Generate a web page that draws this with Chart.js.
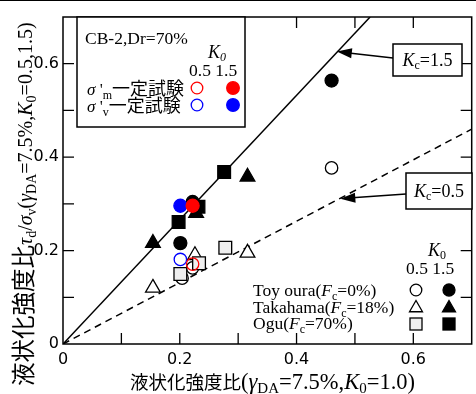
<!DOCTYPE html>
<html>
<head>
<meta charset="utf-8">
<script src="https://cdn.jsdelivr.net/npm/chart.js@4.4.0/dist/chart.umd.min.js"></script>
<style>
  html, body { margin: 0; padding: 0; background: #fff; overflow: hidden; }
  #wrap { width: 482px; height: 394px; }
</style>
</head>
<body>
<div id="wrap"><canvas id="c" width="482" height="394"></canvas></div>
<script>
// values: [ratio at K0=1.0, ratio at K0=0.5/1.5]
const toyouraK15 = [[0.460, 0.564], [0.201, 0.216], [0.222, 0.304]];
const toyouraK05 = [[0.460, 0.377], [0.204, 0.141], [0.222, 0.163]];
const takahamaK15 = [[0.154, 0.216], [0.316, 0.358], [0.228, 0.280]];
const takahamaK05 = [[0.154, 0.120], [0.316, 0.195], [0.226, 0.190]];
const oguK15 = [[0.198, 0.261], [0.276, 0.368], [0.232, 0.294]];
const oguK05 = [[0.201, 0.150], [0.278, 0.206], [0.233, 0.173]];
const sigmaMK15 = [[0.222, 0.296]];
const sigmaMK05 = [[0.222, 0.171]];
const sigmaVK15 = [[0.201, 0.296]];
const sigmaVK05 = [[0.201, 0.181]];
const kc15Line = [[0, 0], [0.526, 0.7]];
const kc05Line = [[0, 0], [0.7, 0.46]];
const kc15Tip = [0.469, 0.626];
const kc05Tip = [0.475, 0.311];
const axisMax = 0.7;
const tickStep = 0.1;
const labelledTicks = [0, 0.2, 0.4, 0.6];

const serif = "'Liberation Serif', 'DejaVu Serif', serif";
const cjk = "'Noto Sans CJK JP', sans-serif";

function pts(arr) {
  return arr.map((p) => ({ x: p[0], y: p[1] }));
}

function scatter(label, data, style, radius, fill, edge, order) {
  return {
    type: "scatter", label, data: pts(data), pointStyle: style, pointRadius: radius,
    pointHoverRadius: radius, backgroundColor: fill, borderColor: edge, borderWidth: 1.3, order,
  };
}

function rich(ctx, x, y, segs) {
  let cx = x;
  segs.forEach((s) => {
    ctx.font = s.f;
    ctx.fillText(s.t, cx, y + (s.dy || 0));
    cx += ctx.measureText(s.t).width + (s.sp || 0);
  });
  return cx;
}

function richWidth(ctx, segs) {
  let w = 0;
  segs.forEach((s) => { ctx.font = s.f; w += ctx.measureText(s.t).width + (s.sp || 0); });
  return w;
}

function circle(ctx, x, y, r, fill, edge) {
  ctx.beginPath();
  ctx.arc(x, y, r, 0, Math.PI * 2);
  ctx.fillStyle = fill; ctx.fill();
  ctx.strokeStyle = edge; ctx.lineWidth = 1.3; ctx.stroke();
}

function tri(ctx, x, y, r, fill) {
  ctx.beginPath();
  for (let i = 0; i < 3; i++) {
    const a = i * 2 * Math.PI / 3;
    const px = x + Math.sin(a) * r, py = y - Math.cos(a) * r;
    if (i === 0) ctx.moveTo(px, py); else ctx.lineTo(px, py);
  }
  ctx.closePath();
  ctx.fillStyle = fill; ctx.fill();
  ctx.strokeStyle = "#000"; ctx.lineWidth = 1.3; ctx.stroke();
}

function square(ctx, x, y, s, fill) {
  ctx.fillStyle = fill;
  ctx.fillRect(x - s / 2, y - s / 2, s, s);
  ctx.strokeStyle = "#000"; ctx.lineWidth = 1.3;
  ctx.strokeRect(x - s / 2, y - s / 2, s, s);
}

function arrow(ctx, x1, y1, x2, y2) {
  const a = Math.atan2(y2 - y1, x2 - x1);
  const L = 15, W = 5;
  ctx.strokeStyle = "#000"; ctx.lineWidth = 1.5;
  ctx.beginPath();
  ctx.moveTo(x1, y1);
  ctx.lineTo(x2 - Math.cos(a) * L * 0.8, y2 - Math.sin(a) * L * 0.8);
  ctx.stroke();
  ctx.beginPath();
  ctx.moveTo(x2, y2);
  ctx.lineTo(x2 - Math.cos(a) * L + Math.sin(a) * W, y2 - Math.sin(a) * L - Math.cos(a) * W);
  ctx.lineTo(x2 - Math.cos(a) * L - Math.sin(a) * W, y2 - Math.sin(a) * L + Math.cos(a) * W);
  ctx.closePath();
  ctx.fillStyle = "#000"; ctx.fill();
}

function kcBox(ctx, x, y, w, h, val) {
  ctx.fillStyle = "#fff";
  ctx.fillRect(x, y, w, h);
  ctx.strokeStyle = "#000"; ctx.lineWidth = 1.5;
  ctx.strokeRect(x, y, w, h);
  const segs = [
    { t: "K", f: "italic 18px " + serif },
    { t: "c", f: "12px " + serif, dy: 3 },
    { t: "=" + val, f: "18px " + serif },
  ];
  ctx.fillStyle = "#000";
  rich(ctx, x + (w - richWidth(ctx, segs)) / 2, y + h / 2 + 6, segs);
}

const frame = {
  id: "frame",
  afterDraw(chart) {
    const { ctx, chartArea: a, scales } = chart;
    const xs = scales.x, ys = scales.y;
    ctx.save();
    ctx.textBaseline = "alphabetic";
    ctx.textAlign = "left";

    // top rule of the picture
    ctx.strokeStyle = "#000"; ctx.lineWidth = 1;
    ctx.beginPath(); ctx.moveTo(0, 0.5); ctx.lineTo(482, 0.5); ctx.stroke();

    // plot frame and inward ticks on all sides
    ctx.lineWidth = 1.5;
    ctx.strokeRect(a.left, a.top, a.right - a.left, a.bottom - a.top);
    ctx.lineWidth = 1.3;
    for (let i = 1; i * tickStep < axisMax - 1e-9; i++) {
      const v = i * tickStep;
      const px = xs.getPixelForValue(v), py = ys.getPixelForValue(v);
      ctx.beginPath();
      ctx.moveTo(px, a.bottom); ctx.lineTo(px, a.bottom - 11);
      ctx.moveTo(px, a.top); ctx.lineTo(px, a.top + 11);
      ctx.moveTo(a.left, py); ctx.lineTo(a.left + 11, py);
      ctx.moveTo(a.right, py); ctx.lineTo(a.right - 11, py);
      ctx.stroke();
    }

    // arrows and Kc boxes
    arrow(ctx, 393, 58, xs.getPixelForValue(kc15Tip[0]), ys.getPixelForValue(kc15Tip[1]));
    kcBox(ctx, 393, 44, 69, 32, "1.5");
    arrow(ctx, 406, 194, xs.getPixelForValue(kc05Tip[0]), ys.getPixelForValue(kc05Tip[1]));
    kcBox(ctx, 406, 173, 66, 36, "0.5");

    // upper-left legend box
    ctx.fillStyle = "#fff";
    ctx.fillRect(77, 17, 168, 110);
    ctx.strokeStyle = "#000"; ctx.lineWidth = 1.5;
    ctx.strokeRect(77, 17, 168, 110);
    ctx.fillStyle = "#000";
    ctx.font = "17.5px " + serif;
    ctx.fillText("CB-2,Dr=70%", 85, 44);
    rich(ctx, 208, 58, [
      { t: "K", f: "italic 18px " + serif },
      { t: "0", f: "italic 12px " + serif, dy: 3 },
    ]);
    ctx.font = "17.5px " + serif;
    ctx.fillText("0.5 1.5", 189, 76);
    rich(ctx, 87, 95, [
      { t: "σ", f: "italic 17px " + serif },
      { t: " '", f: "17px " + serif },
      { t: "m", f: "12px " + serif, dy: 4 },
      { t: "一定試験", f: "18px " + cjk },
    ]);
    rich(ctx, 87, 112, [
      { t: "σ", f: "italic 17px " + serif },
      { t: " '", f: "17px " + serif },
      { t: "v", f: "12px " + serif, dy: 4 },
      { t: "一定試験", f: "18px " + cjk },
    ]);
    circle(ctx, 197, 88, 5.8, "#fff", "#ff0000");
    circle(ctx, 233, 88, 6.3, "#ff0000", "#ff0000");
    circle(ctx, 197, 105, 5.8, "#fff", "#0000ff");
    circle(ctx, 233, 105, 6.3, "#0000ff", "#0000ff");

    // lower-right legend
    ctx.fillStyle = "#000";
    rich(ctx, 428, 256, [
      { t: "K", f: "italic 18px " + serif },
      { t: "0", f: "12px " + serif, dy: 3 },
    ]);
    ctx.font = "17.5px " + serif;
    ctx.fillText("0.5 1.5", 406, 274);
    const rows = [
      ["Toy oura(", "=0%)", 296],
      ["Takahama(", "=18%)", 313],
      ["Ogu(", "=70%)", 329],
    ];
    rows.forEach((r) => {
      ctx.fillStyle = "#000";
      rich(ctx, 253, r[2], [
        { t: r[0], f: "17.5px " + serif },
        { t: "F", f: "italic 17.5px " + serif },
        { t: "c", f: "12px " + serif, dy: 4 },
        { t: r[1], f: "17.5px " + serif },
      ]);
    });
    circle(ctx, 416, 290, 5.8, "#fff", "#000");
    circle(ctx, 449, 290, 6, "#000", "#000");
    tri(ctx, 416, 308, 7.5, "#fff");
    tri(ctx, 449, 308, 7.5, "#000");
    square(ctx, 416, 324, 12, "#eeeeee");
    square(ctx, 449, 324, 12, "#000");

    // axis titles
    ctx.fillStyle = "#000";
    rich(ctx, 130, 389, [
      { t: "液状化強度比", f: "18.5px " + cjk },
      { t: "(", f: "22.5px " + serif },
      { t: "γ", f: "italic 22.5px " + serif },
      { t: "DA", f: "15px " + serif, dy: 4 },
      { t: "=7.5%,", f: "22.5px " + serif },
      { t: "K", f: "italic 22.5px " + serif },
      { t: "0", f: "15px " + serif, dy: 4 },
      { t: "=1.0)", f: "22.5px " + serif },
    ]);
    ctx.translate(32, 386);
    ctx.rotate(-Math.PI / 2);
    rich(ctx, 0, 0, [
      { t: "液状化強度比", f: "23.5px " + cjk },
      { t: "τ", f: "italic 20px " + serif },
      { t: "d", f: "14px " + serif, dy: 4 },
      { t: "/", f: "20px " + serif },
      { t: "σ", f: "italic 20px " + serif },
      { t: "v", f: "14px " + serif, dy: 4 },
      { t: "(", f: "20px " + serif },
      { t: "γ", f: "italic 20px " + serif },
      { t: "DA", f: "14px " + serif, dy: 4 },
      { t: "=7.5%,", f: "20px " + serif },
      { t: "K", f: "italic 20px " + serif },
      { t: "0", f: "14px " + serif, dy: 4 },
      { t: "=0.5,1.5)", f: "20px " + serif },
    ]);
    ctx.restore();
  },
};

function tickLabel(v) {
  const r = Math.round(v * 10) / 10;
  return labelledTicks.some((t) => Math.abs(t - r) < 1e-9) ? String(r) : "";
}

const axisFont = { family: "'DejaVu Sans', sans-serif", size: 16 };

new Chart(document.getElementById("c"), {
  data: {
    datasets: [
      scatter("σ'm K0=1.5", sigmaMK15, "circle", 6.5, "#ff0000", "#ff0000", 1),
      scatter("σ'v K0=1.5", sigmaVK15, "circle", 6.5, "#0000ff", "#0000ff", 1),
      scatter("σ'm K0=0.5", sigmaMK05, "circle", 6.2, "rgba(255,255,255,0)", "#ff0000", 1),
      scatter("σ'v K0=0.5", sigmaVK05, "circle", 6.2, "rgba(255,255,255,0)", "#0000ff", 1),
      scatter("Toyoura K0=1.5", toyouraK15, "circle", 6.5, "#000", "#000", 2),
      scatter("Takahama K0=1.5", takahamaK15, "triangle", 8.5, "#000", "#000", 3),
      scatter("Ogu K0=1.5", oguK15, "rect", 9, "#000", "#000", 2),
      scatter("Ogu K0=0.5", oguK05, "rect", 9, "#eeeeee", "#000", 3),
      scatter("Takahama K0=0.5", takahamaK05, "triangle", 8.5, "#fff", "#000", 3),
      scatter("Toyoura K0=0.5", toyouraK05, "circle", 6.2, "#fff", "#000", 4),
      {
        type: "line", label: "Kc=1.5", data: pts(kc15Line), borderColor: "#000", borderWidth: 1.5,
        pointRadius: 0, order: 9,
      },
      {
        type: "line", label: "Kc=0.5", data: pts(kc05Line), borderColor: "#000", borderWidth: 1.5,
        borderDash: [7, 5], pointRadius: 0, order: 9,
      },
    ],
  },
  options: {
    responsive: false,
    animation: false,
    layout: { padding: { top: 17, right: 1, left: 0, bottom: 0 } },
    plugins: { legend: { display: false }, tooltip: { enabled: false } },
    scales: {
      x: {
        type: "linear", min: 0, max: axisMax,
        grid: { display: false, drawTicks: false }, border: { display: false },
        ticks: { stepSize: tickStep, callback: tickLabel, color: "#000", font: axisFont, padding: 6, maxRotation: 0, autoSkip: false },
        afterFit: (s) => { s.height = 50; },
      },
      y: {
        type: "linear", min: 0, max: axisMax,
        grid: { display: false, drawTicks: false }, border: { display: false },
        ticks: { stepSize: tickStep, callback: tickLabel, color: "#000", font: axisFont, padding: 4, autoSkip: false },
        afterFit: (s) => { s.width = 63; },
      },
    },
  },
  plugins: [frame],
});
</script>
</body>
</html>
